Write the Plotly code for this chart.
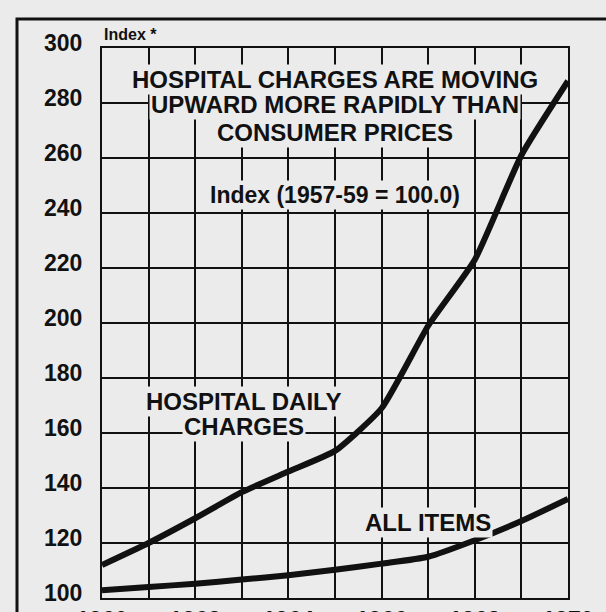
import plotly.graph_objects as go

years = [1960, 1961, 1962, 1963, 1964, 1965, 1966, 1967, 1968, 1969, 1970]
hospital_daily_charges = [112, 120, 129, 138.5, 146, 153.5, 169, 199, 223, 261, 288]
all_items = [102.8, 104, 105.2, 106.7, 108.3, 110.3, 112.5, 115, 121, 128, 136]
x_tick_labels = ["1960", "", "1962", "", "1964", "", "1966", "", "1968", "", "1970"]
y_ticks = [100, 120, 140, 160, 180, 200, 220, 240, 260, 280, 300]

BG = "#ebebeb"
INK = "#111111"
FONT = "Liberation Sans, Arial, sans-serif"

fig = go.Figure()
fig.add_trace(go.Scatter(x=years, y=hospital_daily_charges, mode="lines",
                         line=dict(color=INK, width=6, shape="spline", smoothing=0.5),
                         hoverinfo="skip", showlegend=False))
fig.add_trace(go.Scatter(x=years, y=all_items, mode="lines",
                         line=dict(color=INK, width=6, shape="spline", smoothing=0.6),
                         hoverinfo="skip", showlegend=False))

W, H = 606, 612
L, R, T, B = 102, 38, 48, 14
pw, ph = W - L - R, H - T - B

def px_to_paper_x(px):
    return (px - L) / pw

def px_to_paper_y(py):
    return (H - B - py) / ph

fig.update_layout(
    width=W, height=H,
    margin=dict(l=L, r=R, t=T, b=B, pad=0, autoexpand=False),
    paper_bgcolor=BG, plot_bgcolor=BG,
    font=dict(family=FONT, color=INK),
    xaxis=dict(range=[1960, 1970], tickvals=years, ticktext=x_tick_labels,
               showgrid=True, gridcolor=INK, gridwidth=2,
               showline=True, mirror=True, linecolor=INK, linewidth=2,
               zeroline=False, ticks="", automargin=False, ticklabeloverflow="allow",
               tickfont=dict(size=23, color=INK, weight="bold")),
    yaxis=dict(range=[100, 300], tickvals=y_ticks,
               showgrid=True, gridcolor=INK, gridwidth=2,
               showline=True, mirror=True, linecolor=INK, linewidth=2,
               zeroline=False, ticks="", ticklabelstandoff=13, ticklabelshift=-5,
               automargin=False, ticklabeloverflow="allow",
               tickfont=dict(size=23, color=INK, weight="bold")),
)

def note(text, x, y, size, xref="x", yref="y", xanchor="center"):
    fig.add_annotation(text=text, x=x, y=y, xref=xref, yref=yref, showarrow=False,
                       xanchor=xanchor, yanchor="middle",
                       font=dict(size=size, color=INK, family=FONT, weight="bold"),
                       bgcolor=BG, borderpad=1)

note("HOSPITAL CHARGES ARE MOVING", 1965.0, 288.4, 24)
note("UPWARD MORE RAPIDLY THAN", 1965.0, 279.3, 24)
note("CONSUMER PRICES", 1965.0, 269.4, 24)
note("Index (1957-59 = 100.0)", 1965.0, 246.5, 23)
note("HOSPITAL DAILY", 1963.04, 171.6, 24)
note("CHARGES", 1963.04, 162.5, 24)
note("ALL ITEMS", 1967.0, 127.5, 24)
note("Index *", px_to_paper_x(102), px_to_paper_y(35), 16, xref="paper", yref="paper", xanchor="left")

# outer frame of the printed figure
fig.add_shape(type="rect", xref="paper", yref="paper",
              x0=px_to_paper_x(17), y0=px_to_paper_y(19),
              x1=px_to_paper_x(640), y1=px_to_paper_y(660),
              line=dict(color=INK, width=3), fillcolor="rgba(0,0,0,0)", layer="above")

fig.write_html("out.html", config={"displayModeBar": False},
               post_script="document.body.style.margin='0';document.body.style.overflow='hidden';")
